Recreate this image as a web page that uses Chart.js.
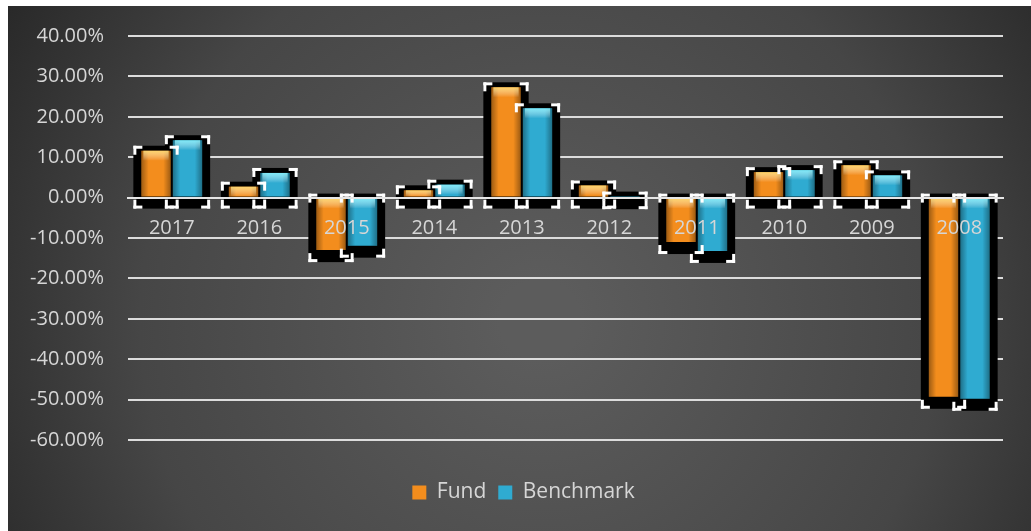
<!DOCTYPE html>
<html>
<head>
<meta charset="utf-8">
<script src="https://cdn.jsdelivr.net/npm/chart.js@4.4.1/dist/chart.umd.min.js"></script>
<style>
  html, body { margin: 0; padding: 0; background: #ffffff; }
  #wrap { width: 1031px; height: 531px; }
</style>
</head>
<body>
<div id="wrap"><canvas id="chart-returns" width="1031" height="531"></canvas></div>
<script>
  /* ===== datos ===== */
  const years = ['2017', '2016', '2015', '2014', '2013', '2012', '2011', '2010', '2009', '2008'];
  const fund = [11.6, 2.7, -13.0, 1.8, 27.3, 3.0, -11.0, 6.3, 8.0, -49.3];
  const benchmark = [14.2, 6.1, -11.9, 3.2, 22.1, 0.1, -13.2, 6.8, 5.5, -49.8];
  const yTicks = [40, 30, 20, 10, 0, -10, -20, -30, -40, -50, -60];

  const FONT = '"Open Sans", "Noto Sans", sans-serif';
  const TEXT = '#d6d6d6';

  // fondo gris con degradado radial
  const backgroundPlugin = {
    id: 'fondo',
    beforeDraw(chart) {
      const { ctx, width, height } = chart;
      ctx.save();
      ctx.fillStyle = '#ffffff';
      ctx.fillRect(0, 0, width, height);
      let g = ctx.createRadialGradient(540, 320, 40, 540, 320, 640);
      g.addColorStop(0, '#5c5c5c');
      g.addColorStop(0.6, '#464646');
      g.addColorStop(1, '#262626');
      ctx.fillStyle = g;
      ctx.fillRect(8, 6, width - 8, height - 6);
      ctx.restore();
    },
    // la leyenda va un poco a la derecha del centro
    afterUpdate(chart) {
      if (chart.legend) {
        chart.legend.left += 18;
        chart.legend.right += 18;
      }
    }
  };

  // marco negro + esquinas blancas alrededor de cada barra
  const frameRect = (bar) => {
    let top = Math.min(bar.y, bar.base), bottom = Math.max(bar.y, bar.base);
    return {
      l: bar.x - bar.width / 2 - 8,
      r: bar.x + bar.width / 2 + 8,
      t: top - 5,
      b: bottom + 12
    };
  };

  const framePlugin = {
    id: 'marcos',
    beforeDatasetsDraw(chart) {
      const ctx = chart.ctx;
      ctx.save();
      ctx.fillStyle = '#000000';
      chart.data.datasets.forEach((ds, i) => {
        chart.getDatasetMeta(i).data.forEach(bar => {
          let f = frameRect(bar);
          ctx.fillRect(f.l, f.t, f.r - f.l, f.b - f.t);
        });
      });
      ctx.restore();
    },
    afterDatasetsDraw(chart) {
      const ctx = chart.ctx;
      ctx.save();
      chart.data.datasets.forEach((ds, i) => {
        chart.getDatasetMeta(i).data.forEach(bar => {
          let top = Math.min(bar.y, bar.base), bottom = Math.max(bar.y, bar.base);
          let l = bar.x - bar.width / 2, w = bar.width, h = bottom - top;
          if (h < 1) return;
          // sombra lateral
          let gx = ctx.createLinearGradient(l, 0, l + w, 0);
          gx.addColorStop(0, 'rgba(0,0,0,0.35)');
          gx.addColorStop(0.25, 'rgba(0,0,0,0)');
          gx.addColorStop(0.75, 'rgba(0,0,0,0)');
          gx.addColorStop(1, 'rgba(0,0,0,0.35)');
          ctx.fillStyle = gx;
          ctx.fillRect(l, top, w, h);
          // brillo superior
          let hh = Math.min(10, h);
          let gy = ctx.createLinearGradient(0, top, 0, top + hh);
          gy.addColorStop(0, i === 0 ? 'rgba(255,225,120,0.85)' : 'rgba(140,245,255,0.85)');
          gy.addColorStop(1, 'rgba(255,255,255,0)');
          ctx.fillStyle = gy;
          ctx.fillRect(l + 2, top, w - 4, hh);
        });
      });
      // esquinas blancas
      ctx.fillStyle = '#ffffff';
      chart.data.datasets.forEach((ds, i) => {
        chart.getDatasetMeta(i).data.forEach(bar => {
          let f = frameRect(bar), L = 9, T = 3;
          ctx.fillRect(f.l, f.t, L, T); ctx.fillRect(f.l, f.t, T, L);
          ctx.fillRect(f.r - L, f.t, L, T); ctx.fillRect(f.r - T, f.t, T, L);
          ctx.fillRect(f.l, f.b - T, L, T); ctx.fillRect(f.l, f.b - L, T, L);
          ctx.fillRect(f.r - L, f.b - T, L, T); ctx.fillRect(f.r - T, f.b - L, T, L);
        });
      });
      ctx.restore();
    }
  };

  let canvasReturns = document.getElementById('chart-returns').getContext('2d');

  let returnsChart = new Chart(canvasReturns, {
    type: 'bar',
    data: {
      labels: years,
      datasets: [{
        label: 'Fund',
        data: fund,
        backgroundColor: '#f38d1d',
        categoryPercentage: 0.72,
        barPercentage: 0.93
      }, {
        label: 'Benchmark',
        data: benchmark,
        backgroundColor: '#2fabd1',
        categoryPercentage: 0.72,
        barPercentage: 0.93
      }]
    },
    options: {
      responsive: false,
      animation: false,
      layout: { padding: { left: 8, right: 28, top: 36, bottom: 18 } },
      plugins: {
        tooltip: { enabled: false },
        legend: {
          position: 'bottom',
          labels: {
            color: TEXT,
            font: { family: FONT, size: 21 },
            boxWidth: 14,
            boxHeight: 14,
            padding: 12
          }
        }
      },
      scales: {
        x: {
          position: { y: 0 },
          grid: { display: false, drawTicks: false },
          border: { display: true, color: '#e6e6e6', width: 2, z: 1 },
          ticks: { color: TEXT, font: { family: FONT, size: 20 }, padding: 19, z: 1 }
        },
        // eje vacío sólo para dejar espacio sobre la leyenda
        x2: {
          position: 'bottom',
          grid: { display: false, drawTicks: false },
          border: { display: false },
          ticks: { display: false },
          afterFit: (scale) => { scale.height = 30; }
        },
        y: {
          min: -60,
          max: 40,
          afterBuildTicks: (scale) => { scale.ticks = yTicks.map(v => ({ value: v })); },
          afterFit: (scale) => { scale.width = 120; },
          grid: { color: '#dcdcdc', lineWidth: 2, drawTicks: false },
          border: { display: false },
          ticks: {
            color: TEXT,
            font: { family: FONT, size: 20 },
            padding: 24,
            callback: (v) => v.toFixed(2) + '%'
          }
        }
      }
    },
    plugins: [backgroundPlugin, framePlugin]
  });
</script>
</body>
</html>
